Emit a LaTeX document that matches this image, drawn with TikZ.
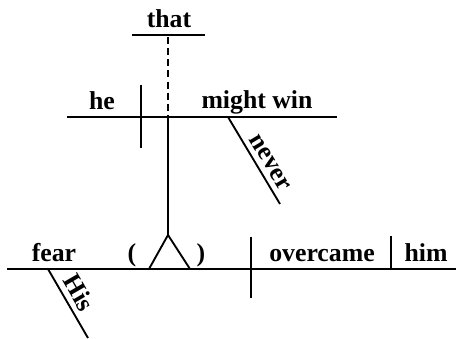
\documentclass[tikz,border=0pt]{standalone}
\usepackage{fontspec}
\setmainfont{Liberation Serif}
\usepackage{tikz}
\usetikzlibrary{positioning}
\tikzset{word/.style={font=\fontsize{22}{26}\selectfont\bfseries, anchor=base, inner sep=1pt},
  slantword/.style={font=\fontsize{22}{26}\selectfont\bfseries, sloped, above, inner sep=4.5pt}}

\begin{document}
\begin{tikzpicture}[x=0.03cm,y=-0.03cm,line width=1.6pt]
  \useasboundingbox (0,0) rectangle (462,339);
  % words sitting on the lines
  \foreach \n/\x/\y/\t in {that/169/28/that, he/102/110/he, win/257/109/might win,
      fear/54/262/fear, lpar/132/262/(, rpar/201/262/), overcame/322/262/overcame, him/426/262/him}
    \node[word] (\n) at (\x,\y) {\t};
  % line ends
  \coordinate (thatL) at (132,35);   \coordinate (thatR) at (205,35);
  \coordinate (clauseL) at (67,117); \coordinate (clauseR) at (337,117);
  \coordinate (stem) at (168,37);    \coordinate (stemX) at (168,117);
  \coordinate (apex) at (168,235);
  \coordinate (legL) at (149,269);   \coordinate (legR) at (190,269);
  \coordinate (mainL) at (7,269);    \coordinate (mainR) at (456,269);
  \coordinate (divT) at (141,85);    \coordinate (divB) at (141,148);
  \coordinate (mdivT) at (251,237);  \coordinate (mdivB) at (251,298);
  \coordinate (odivT) at (391,236);  \coordinate (odivB) at (391,269);
  \coordinate (neverA) at (228,117); \coordinate (neverB) at (280,204);
  \coordinate (hisA) at (48,269);    \coordinate (hisB) at (88,338);
  % that clause
  \draw (thatL) -- (thatR);
  \draw[dash pattern=on 6pt off 3.5pt] (stem) -- (stemX);
  \draw (stemX) -- (apex);
  \draw (legL) -- (apex) -- (legR);
  \draw (clauseL) -- (clauseR);
  \draw (divT) -- (divB);
  \draw (neverA) -- node[slantword, pos=0.6] {never} (neverB);
  % main clause
  \draw (mainL) -- (mainR);
  \draw (mdivT) -- (mdivB);
  \draw (odivT) -- (odivB);
  \draw (hisA) -- node[slantword, pos=0.45] {His} (hisB);
\end{tikzpicture}
\end{document}
